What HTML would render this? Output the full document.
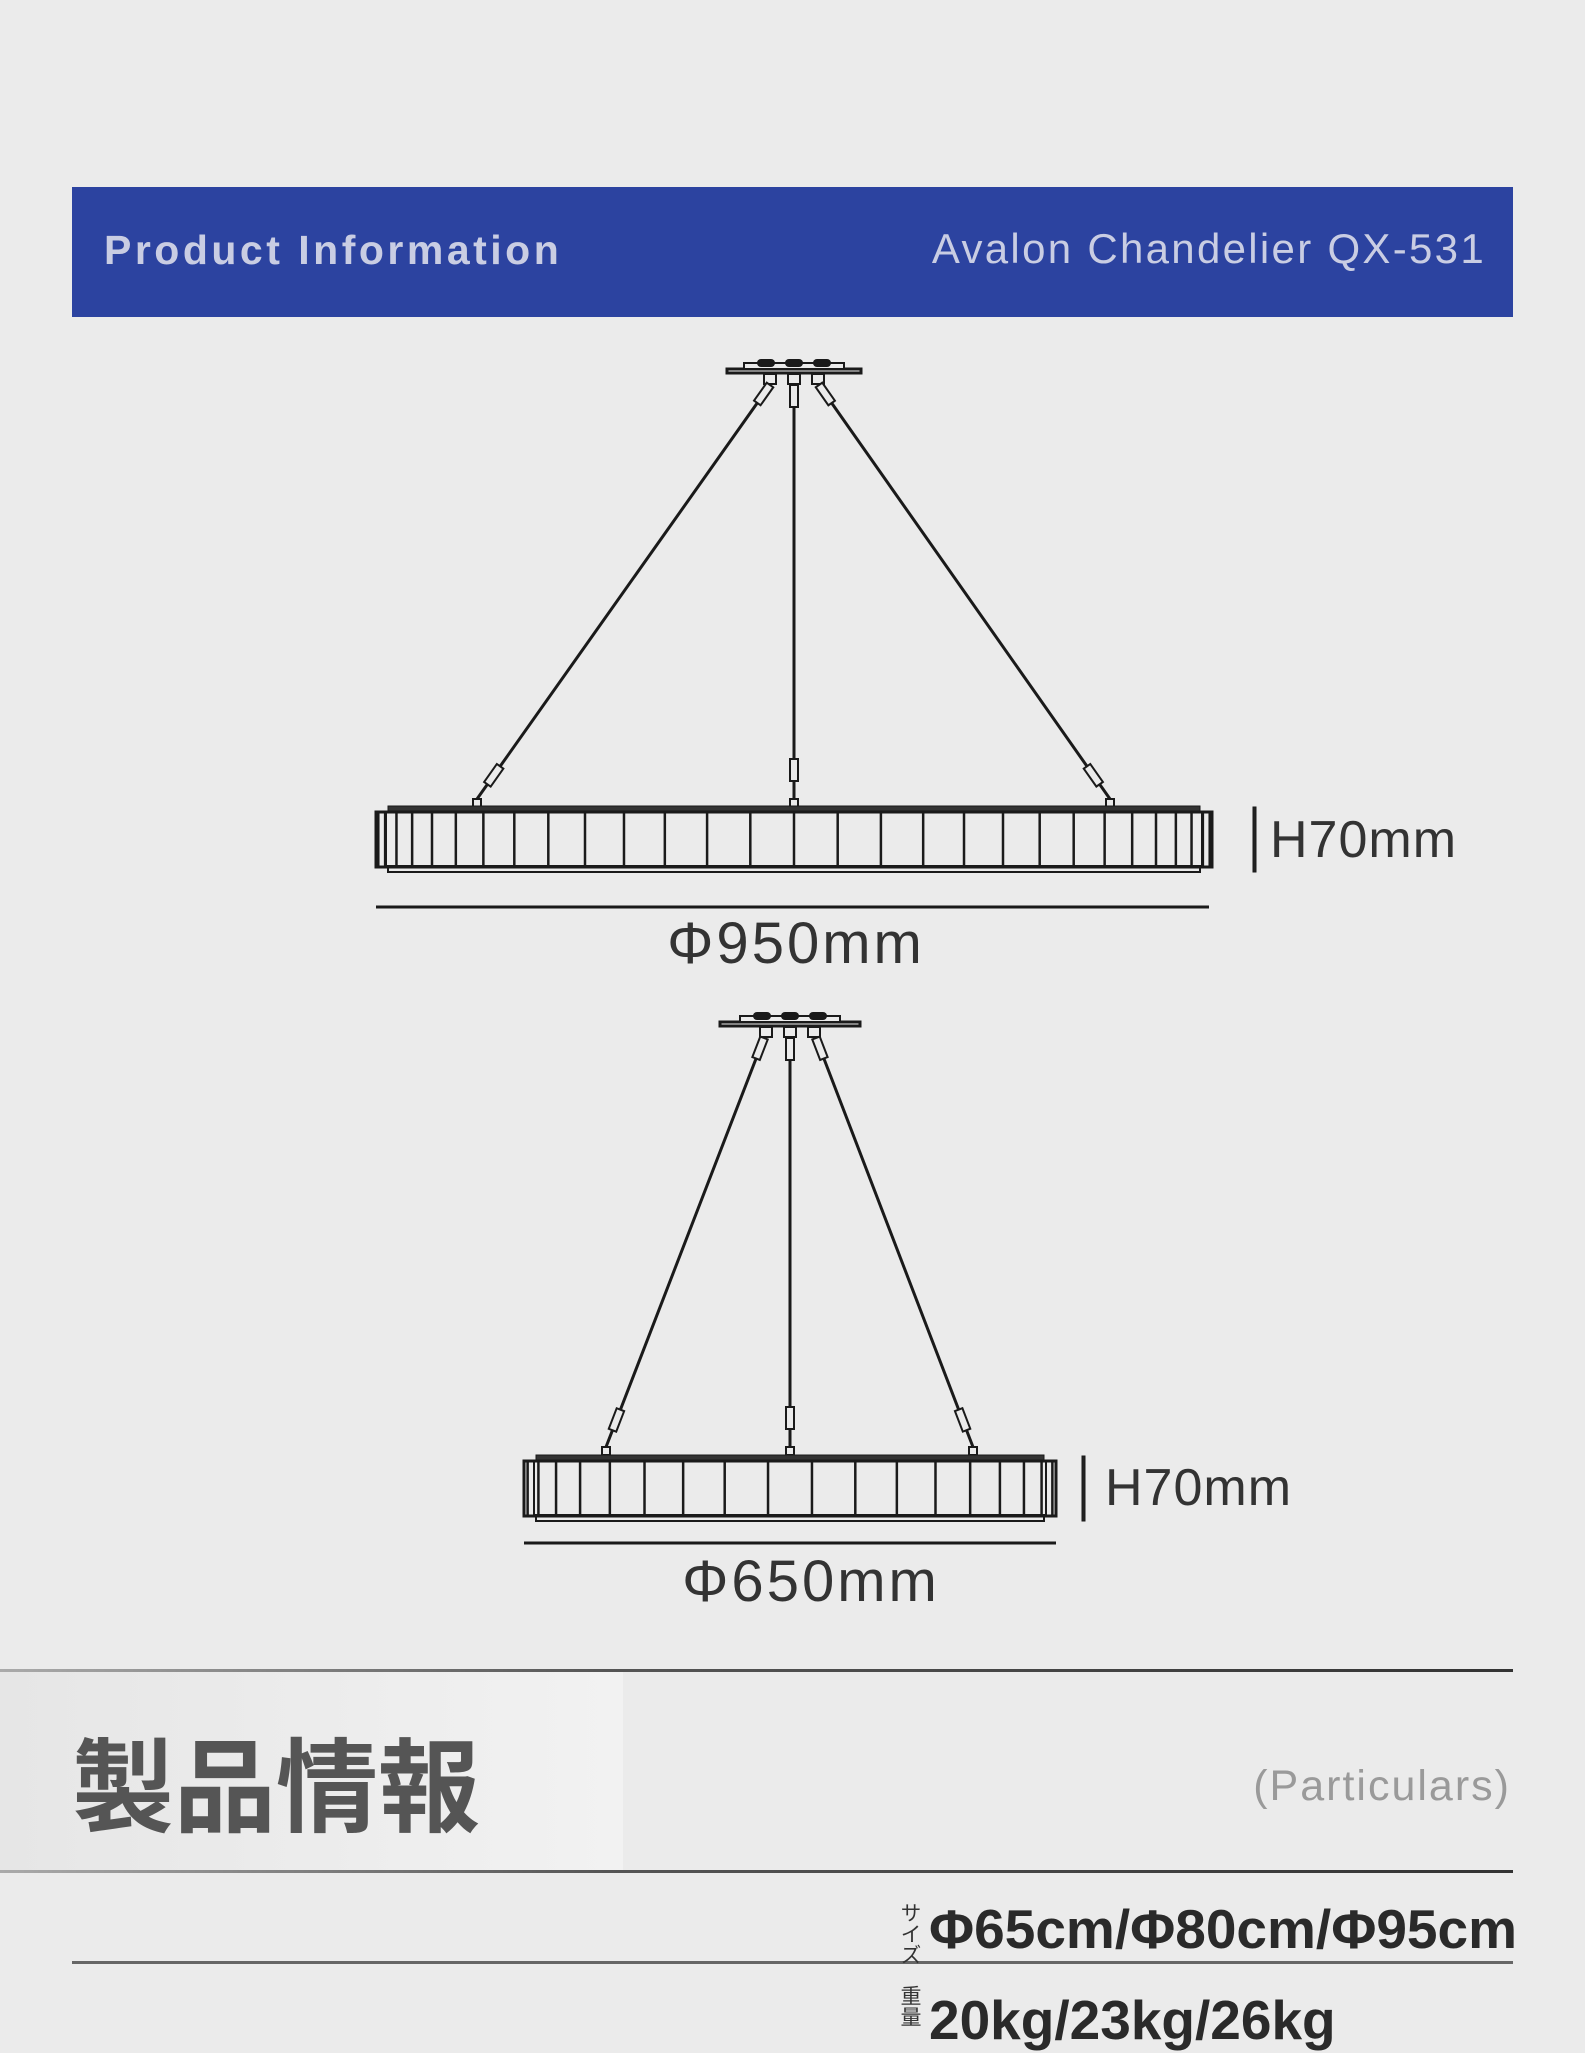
<!DOCTYPE html>
<html><head><meta charset="utf-8"><style>
html,body{margin:0;padding:0;background:#ebebeb;}
body{width:1585px;height:2048px;position:relative;overflow:hidden;font-family:"Liberation Sans","Noto Sans CJK JP",sans-serif;}
.t{position:absolute;white-space:nowrap;}
</style></head><body>
<div style="position:absolute;left:72px;top:187px;width:1441px;height:130px;background:#2c43a0;"></div>
<div class="t" style="left:104px;top:227px;font-size:41px;font-weight:bold;color:#c9cde3;letter-spacing:3.5px;">Product Information</div>
<div class="t" style="right:99px;top:225px;font-size:42px;color:#c9cde3;letter-spacing:2.3px;">Avalon Chandelier QX-531</div>

<svg id="s" width="1585" height="2048" style="position:absolute;left:0;top:0" xmlns="http://www.w3.org/2000/svg"></svg>

<div class="t" style="left:1270px;top:810px;font-size:52px;color:#333;letter-spacing:1px;">H70mm</div>
<div class="t" style="left:1105px;top:1458px;font-size:52px;color:#333;letter-spacing:1px;">H70mm</div>
<div class="t" style="left:796px;top:910px;transform:translateX(-50%);font-size:58px;color:#333;letter-spacing:3px;">Φ950mm</div>
<div class="t" style="left:811px;top:1548px;transform:translateX(-50%);font-size:58px;color:#333;letter-spacing:3px;">Φ650mm</div>

<div style="position:absolute;left:0;top:1672px;width:623px;height:199px;background:linear-gradient(90deg,#e6e6e6,#f2f2f2);"></div>
<div style="position:absolute;left:0;top:1669px;width:1513px;height:3px;background:linear-gradient(90deg,#aaa,#555 40%,#333);"></div>
<div style="position:absolute;left:0;top:1870px;width:1513px;height:3px;background:linear-gradient(90deg,#aaa,#555 40%,#333);"></div>
<div style="position:absolute;left:72px;top:1961px;width:1441px;height:3px;background:#666;"></div>
<div class="t" style="left:72px;top:1728px;font-size:102px;font-weight:bold;color:#555;line-height:1.2;">製品情報</div>
<div class="t" style="right:74px;top:1762px;font-size:43px;color:#9a9a9a;letter-spacing:2px;">(Particulars)</div>
<div class="t" style="left:898px;top:1902px;font-size:21px;color:#333;writing-mode:vertical-rl;line-height:22px;">サイズ</div>
<div class="t" style="left:898px;top:1985px;font-size:21px;color:#333;writing-mode:vertical-rl;line-height:22px;">重量</div>
<div class="t" style="left:929px;top:1896px;font-size:55px;font-weight:bold;color:#2a2a2a;line-height:1.2;">Φ65cm/Φ80cm/Φ95cm</div>
<div class="t" style="left:929px;top:1987px;font-size:55px;font-weight:bold;color:#2a2a2a;line-height:1.2;">20kg/23kg/26kg</div>

<script>
var s=document.getElementById('s'),o='';
function L(x1,y1,x2,y2,w){o+='<line x1="'+x1+'" y1="'+y1+'" x2="'+x2+'" y2="'+y2+'" stroke="#1a1a1a" stroke-width="'+(w||2)+'"/>';}
function R(x,y,w,h,f,sw){o+='<rect x="'+x+'" y="'+y+'" width="'+w+'" height="'+h+'" fill="'+(f||'none')+'" stroke="#1a1a1a" stroke-width="'+(sw||2)+'"/>';}
function chand(cx,cy,cw,ry,l,r,top,bot,tops,atts){
 R(cx-cw/2,cy,cw,4,'#ebebeb',3);
 R(cx-50,cy-6,100,6,'#ebebeb',2);
 for(var i=-1;i<=1;i++){o+='<rect x="'+(cx+i*28-9)+'" y="'+(cy-10)+'" width="18" height="8" rx="4" fill="#1a1a1a"/>';R(cx+i*24-6,cy+5,12,10,'#ebebeb',2);}
 for(var k=0;k<3;k++){var a=tops[k],b=atts[k];L(a[0],a[1],b[0],b[1],3);
  var dx=b[0]-a[0],dy=b[1]-a[1],len=Math.hypot(dx,dy),ang=Math.atan2(dy,dx)*180/Math.PI-90;
  [[a,10],[b,-30]].forEach(function(p){var t=p[1]>0?p[1]/len:(len+p[1])/len;var x=a[0]+dx*t,y=a[1]+dy*t;
   o+='<rect x="'+(x-4)+'" y="'+(y-10)+'" width="8" height="22" fill="#ebebeb" stroke="#1a1a1a" stroke-width="2" transform="rotate('+ang+' '+x+' '+y+')"/>';});
  R(b[0]-4,b[1],8,8,'#ebebeb',2);}
 R(l+12,top-3,r-l-24,5,'#333',1);
 R(l,top+3,r-l,bot-top-8,'none',3);
 R(l+12,bot-6,r-l-24,6,'none',2);
 var c=(l+r)/2,Rr=(r-l)/2,N=Math.round(Rr*Math.PI/44);
 for(var i=1;i<N;i++){var x=c-Rr*Math.cos(i*Math.PI/N);L(x,top+3,x,bot-5,2.5);}
 L(l+10,top+3,l+10,bot-5,2);L(r-10,top+3,r-10,bot-5,2);
}
chand(794,369,134,0,376,1212,809,872,[[770,385],[794,385],[819,385]],[[477,799],[794,799],[1110,799]]);
L(376,907,1209,907,3);R(1253,807,3,65,'#222',1);
chand(790,1022,140,0,524,1056,1458,1521,[[764,1038],[790,1038],[816,1038]],[[606,1447],[790,1447],[973,1447]]);
L(524,1543,1056,1543,3);R(1082,1456,3,65,'#222',1);
s.innerHTML=o;
</script>
</body></html>
